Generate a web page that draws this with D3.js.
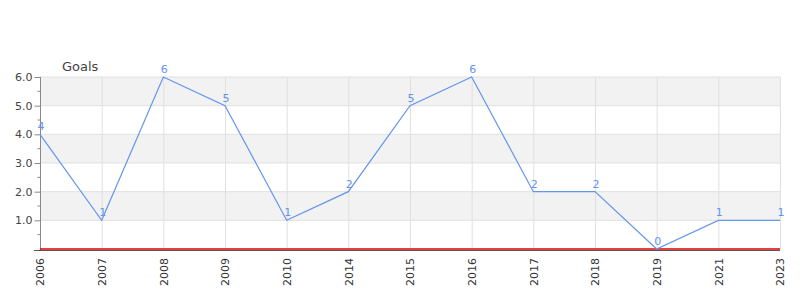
<!DOCTYPE html>
<html>
<head>
<meta charset="utf-8">
<script src="https://cdn.jsdelivr.net/npm/d3@7"></script>
<style>
  body { margin: 0; background: #fff; }
  text { font-family: "DejaVu Sans", sans-serif; }
</style>
</head>
<body>
<div id="chart"></div>
<script>
var years = ["2006", "2007", "2008", "2009", "2010", "2014", "2015", "2016", "2017", "2018", "2019", "2021", "2023"];
var goals = [4, 1, 6, 5, 1, 2, 5, 6, 2, 2, 0, 1, 1];
var yTicks = [1, 2, 3, 4, 5, 6];
var bands = [[1, 2], [3, 4], [5, 6]];

var width = 800, height = 300;
var lineColor = "#6495ed";

var svg = d3.select("#chart").append("svg")
  .attr("width", width)
  .attr("height", height);

var x = d3.scalePoint().domain(years).range([40, 780]);
var y = d3.scaleLinear().domain([0, 6]).range([249, 77]);

// shaded bands
svg.selectAll("rect.band").data(bands).enter().append("rect")
  .attr("x", 40)
  .attr("width", 740)
  .attr("y", function (d) { return y(d[1]); })
  .attr("height", function (d) { return y(d[0]) - y(d[1]); })
  .attr("fill", "#f2f2f2");

// grid
svg.selectAll("line.hgrid").data(yTicks).enter().append("line")
  .attr("x1", 40).attr("x2", 780)
  .attr("y1", function (d) { return y(d); })
  .attr("y2", function (d) { return y(d); })
  .attr("stroke", "#e0e0e0");

svg.selectAll("line.vgrid").data(years).enter().append("line")
  .attr("x1", function (d) { return x(d) + 0.5; })
  .attr("x2", function (d) { return x(d) + 0.5; })
  .attr("y1", y(6)).attr("y2", y(0))
  .attr("stroke", "#e0e0e0");

// y axis
var yAxis = d3.axisLeft(y)
  .tickValues(yTicks)
  .tickFormat(d3.format(".1f"))
  .tickSize(6);
var gy = svg.append("g").attr("transform", "translate(40.5,0)").call(yAxis);
gy.select(".domain").attr("stroke", "#888").attr("d", "M0," + y(6) + "V" + (y(0) + 1));
gy.selectAll(".tick line").attr("stroke", "#888");
gy.selectAll(".tick text").attr("fill", "#444").attr("font-size", 11).attr("x", -8);

var minor = d3.range(0.5, 6, 1);
gy.selectAll("line.minor").data(minor).enter().append("line")
  .attr("x1", -3).attr("x2", 0)
  .attr("y1", function (d) { return y(d); })
  .attr("y2", function (d) { return y(d); })
  .attr("stroke", "#888");

// x axis
svg.append("line")
  .attr("x1", 34).attr("x2", 780)
  .attr("y1", y(0) + 1.5).attr("y2", y(0) + 1.5)
  .attr("stroke", "#555").attr("stroke-width", 1);
svg.append("line")
  .attr("x1", 40).attr("x2", 780)
  .attr("y1", y(0)).attr("y2", y(0))
  .attr("stroke", "#e00000").attr("stroke-width", 1.5);

var xAxis = d3.axisBottom(x).tickSize(0);
var gx = svg.append("g").attr("transform", "translate(0," + (y(0) + 2) + ")").call(xAxis);
gx.select(".domain").remove();
gx.selectAll(".tick text")
  .attr("fill", "#333")
  .attr("font-size", 11)
  .attr("transform", "rotate(-90)")
  .attr("text-anchor", "end")
  .attr("x", -7)
  .attr("y", 0)
  .attr("dy", "0.35em");

// line
var line = d3.line()
  .x(function (d, i) { return x(years[i]); })
  .y(function (d) { return y(d); });

svg.append("path")
  .datum(goals)
  .attr("fill", "none")
  .attr("stroke", lineColor)
  .attr("stroke-width", 1.2)
  .attr("d", line);

// value labels
svg.selectAll("text.val").data(goals).enter().append("text")
  .attr("class", "val")
  .attr("x", function (d, i) { return x(years[i]) + 1; })
  .attr("y", function (d) { return y(d) - 4; })
  .attr("text-anchor", "middle")
  .attr("font-size", 11)
  .attr("fill", lineColor)
  .text(function (d) { return d; });

// title
svg.append("text")
  .attr("x", 62).attr("y", 71)
  .attr("font-size", 13)
  .attr("fill", "#444")
  .text("Goals");
</script>
</body>
</html>
